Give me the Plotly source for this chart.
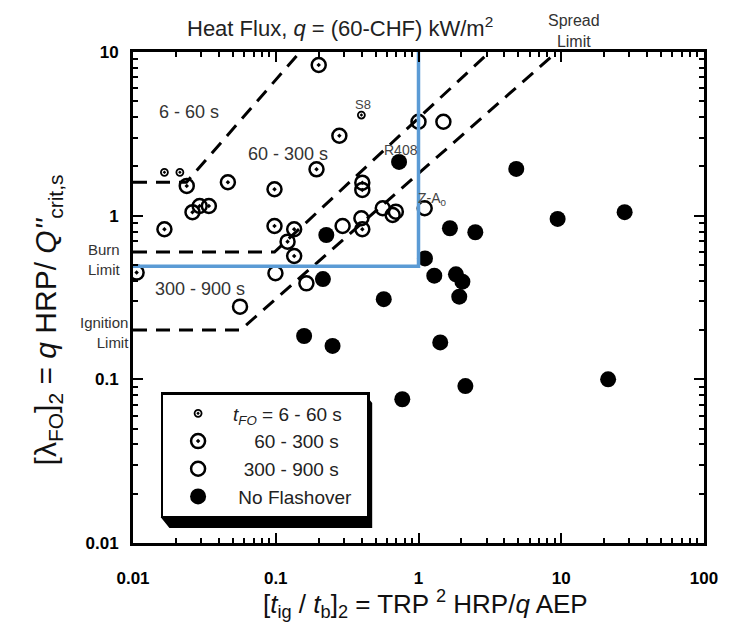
import math
import plotly.graph_objects as go

# ---------------- data ----------------
# t_FO = 6 - 60 s (small dotted circles)
small_x = [0.0166, 0.0213, 0.398]
small_y = [1.84, 1.84, 4.12]
# 60 - 300 s (dotted circles)
mid_x = [0.200, 0.0238, 0.0462, 0.0261, 0.0293, 0.034, 0.0166, 0.0106, 0.193,
         0.098, 0.098, 0.121, 0.1346, 0.1346, 0.404, 0.404, 0.404, 0.279]
mid_y = [8.33, 1.52, 1.60, 1.05, 1.146, 1.146, 0.826, 0.449, 1.92,
         1.45, 0.865, 0.694, 0.826, 0.567, 1.59, 1.436, 0.826, 3.08]
# 300 - 900 s (open circles)
open_x = [0.294, 0.398, 0.562, 0.659, 0.694, 1.0, 1.494, 1.105, 0.0995, 0.164, 0.0562]
open_y = [0.865, 0.964, 1.11, 1.01, 1.058, 3.75, 3.75, 1.11, 0.445, 0.386, 0.278]
# No flashover (filled)
nofo_x = [0.226, 0.731, 4.84, 9.43, 27.8, 1.66, 2.5, 1.11, 1.29, 1.83, 2.03, 1.93,
          0.571, 0.214, 0.158, 0.25, 1.42, 2.13, 0.77, 21.3]
nofo_y = [0.762, 2.13, 1.93, 0.955, 1.05, 0.838, 0.792, 0.548, 0.43, 0.438, 0.395, 0.32,
          0.309, 0.41, 0.184, 0.16, 0.168, 0.091, 0.0756, 0.1]

# boundary lines (dashed)
b1_x = [0.01, 0.0237, 0.148]
b1_y = [1.6, 1.6, 10]
b2_x = [0.01, 0.098, 3.15]
b2_y = [0.6, 0.6, 10]
b3_x = [0.01, 0.0565, 9.3]
b3_y = [0.2, 0.2, 10]

# blue limit lines (burn limit / x = 1)
blue_x = [0.01, 1.0, 1.0]
blue_y = [0.49, 0.49, 10]

tick_vals = [0.01, 0.1, 1, 10, 100]
tick_text = ["0.01", "0.1", "1", "10", "100"]
ytick_vals = [0.01, 0.1, 1, 10]
ytick_text = ["0.01", "0.1", "1", "10"]
minor_vals = [m * 10.0 ** e for e in range(-2, 2) for m in range(2, 10)]

FONT = "Liberation Sans, Arial, sans-serif"
TXT = "#333333"

fig = go.Figure()

dash = "14px,9px"
for bx, by in [(b1_x, b1_y), (b2_x, b2_y), (b3_x, b3_y)]:
    fig.add_trace(go.Scatter(x=bx, y=by, mode="lines", showlegend=False, hoverinfo="skip",
                             line=dict(color="black", width=3, dash=dash)))

nb = "\u00a0"
fig.add_trace(go.Scatter(x=small_x, y=small_y, mode="markers",
                         name="<i>t</i><sub><i>FO</i></sub> = 6 - 60 s" + nb, legendgroup="a",
                         marker=dict(symbol="circle-open-dot", size=7, color="black",
                                     line=dict(width=1.8, color="black"))))
fig.add_trace(go.Scatter(x=mid_x, y=mid_y, mode="markers",
                         name=nb * 4 + "60 - 300 s", legendgroup="b",
                         marker=dict(symbol="circle-open-dot", size=14, color="black",
                                     line=dict(width=2.5, color="black"))))
fig.add_trace(go.Scatter(x=open_x, y=open_y, mode="markers",
                         name=nb * 2 + "300 - 900 s", legendgroup="c",
                         marker=dict(symbol="circle-open", size=14, color="black",
                                     line=dict(width=2.5, color="black"))))
fig.add_trace(go.Scatter(x=nofo_x, y=nofo_y, mode="markers",
                         name=nb + "No Flashover" + nb * 2, legendgroup="d",
                         marker=dict(symbol="circle", size=16, color="black",
                                     line=dict(width=0))))

blue = "rgb(91,155,213)"
fig.add_trace(go.Scatter(x=blue_x, y=blue_y, mode="lines", showlegend=False, hoverinfo="skip",
                         line=dict(color=blue, width=3.5)))

# legend shadow (3D look), paper coordinates of the legend box
L, T, R, B = 0.0483, 0.3075, 0.4034, 0.053
DX, DY = 0.0155, 0.0224
fig.add_shape(type="path", xref="paper", yref="paper",
              path=(f"M{R},{T} L{R+DX},{T-DY} L{R+DX},{B-DY} L{L+DX},{B-DY} "
                    f"L{L},{B} L{R},{B} Z"),
              fillcolor="black", line=dict(width=0), layer="above")

def lg(v):
    return math.log10(v)

def dann(text, x, y, size, color):
    return dict(text=text, x=lg(x), y=lg(y), xref="x", yref="y", showarrow=False,
                xanchor="center", yanchor="middle",
                font=dict(size=size, color=color, family=FONT))

ann = [
    dann("6 - 60 s", 0.0247, 4.3, 18, TXT),
    dann("60 - 300 s", 0.121, 2.38, 18, TXT),
    dann("300 - 900 s", 0.0294, 0.356, 18, TXT),
    dann("S8", 0.41, 4.75, 13, "#444444"),
    dann("R408", 0.75, 2.52, 14, "#444444"),
    dann("Z-A<sub>0</sub>", 1.25, 1.26, 14, "#444444"),
    dict(text="Spread<br>Limit", x=0.772, y=1.043, xref="paper", yref="paper", showarrow=False,
         xanchor="center", yanchor="middle", align="center",
         font=dict(size=16, color=TXT, family=FONT)),
    dict(text="Burn<br>Limit", x=-0.017, y=0.578, xref="paper", yref="paper", showarrow=False,
         xanchor="right", yanchor="middle", align="right",
         font=dict(size=15, color=TXT, family=FONT)),
    dict(text="Ignition<br>Limit", x=-0.003, y=0.428, xref="paper", yref="paper", showarrow=False,
         xanchor="right", yanchor="middle", align="right",
         font=dict(size=15, color=TXT, family=FONT)),
    dict(text="Heat Flux, <i>q</i> = (60-CHF) kW/m<sup>2</sup>", x=0.362, y=1.051,
         xref="paper", yref="paper", showarrow=False, xanchor="center", yanchor="middle",
         font=dict(size=22, color="#222222", family=FONT)),
    dict(text="[<i>t</i><sub>ig</sub> / <i>t</i><sub>b</sub>]<sub>2</sub> = TRP <sup>2</sup> HRP/<i>q</i> AEP",
         x=0.512, y=-0.124, xref="paper", yref="paper", showarrow=False,
         xanchor="center", yanchor="middle",
         font=dict(size=26, color="#111111", family=FONT)),
    dict(text="[λ<sub>FO</sub>]<sub>2</sub> = <i>q</i> HRP/ <i>Q''</i><sub>crit,s</sub>",
         x=-0.15, y=0.454, xref="paper", yref="paper", showarrow=False, textangle=-90,
         xanchor="center", yanchor="middle",
         font=dict(size=30, color="#111111", family=FONT)),
]

axis_common = dict(
    type="log", showline=True, linecolor="black", linewidth=3, mirror="allticks",
    ticks="inside", ticklen=10, tickwidth=2, tickcolor="black", showgrid=False, zeroline=False,
    tickmode="array",
    tickfont=dict(family=FONT, size=17, color="black", weight="bold"),
    minor=dict(tickmode="array", tickvals=minor_vals, ticks="inside", ticklen=5,
               tickwidth=2, tickcolor="black", showgrid=False),
)

fig.update_layout(
    width=730, height=632,
    margin=dict(l=133, r=17, t=52, b=89),
    paper_bgcolor="white", plot_bgcolor="white",
    font=dict(family=FONT, color="black"),
    xaxis=dict(axis_common, range=[-2, 2], tickvals=tick_vals, ticktext=tick_text,
               ticklabelstandoff=18),
    yaxis=dict(axis_common, range=[-2, 1], tickvals=ytick_vals, ticktext=ytick_text,
               ticklabelstandoff=8),
    showlegend=True,
    legend=dict(x=L, y=T, xanchor="left", yanchor="top", bgcolor="white",
                bordercolor="black", borderwidth=2.5, itemwidth=60, tracegroupgap=0,
                font=dict(family=FONT, size=19, color="#222222")),
    annotations=ann,
)

fig.write_html("out.html")
